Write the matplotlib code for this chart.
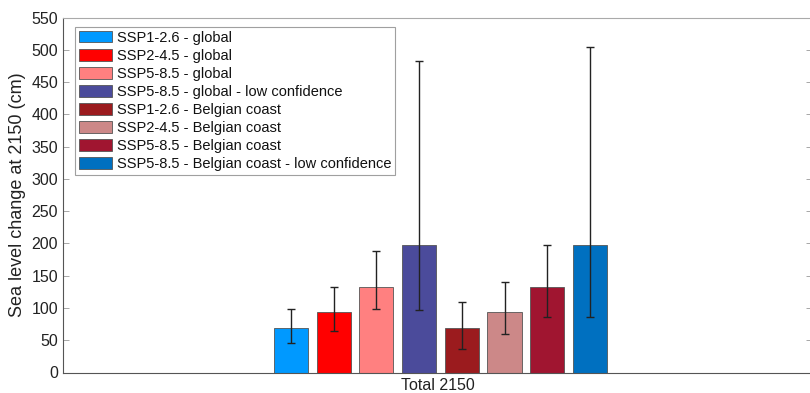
import matplotlib
matplotlib.use("Agg")
import matplotlib.pyplot as plt
import numpy as np

plt.rcParams['font.family'] = ['Liberation Sans', 'DejaVu Sans']

series = ["SSP1-2.6 - global", "SSP2-4.5 - global", "SSP5-8.5 - global",
          "SSP5-8.5 - global - low confidence", "SSP1-2.6 - Belgian coast",
          "SSP2-4.5 - Belgian coast", "SSP5-8.5 - Belgian coast",
          "SSP5-8.5 - Belgian coast - low confidence"]
values = [69, 93, 132, 198, 69, 94, 133, 198]
err_low = [46, 65, 98, 97, 37, 59, 86, 86]
err_high = [99, 133, 188, 482, 109, 140, 197, 504]
colors = ["#0099FF", "#FF0000", "#FF8080", "#4B4B9B", "#9B1B1E", "#CC8888",
          "#A01530", "#0070C0"]
category = "Total 2150"

fig = plt.figure(figsize=(8.1, 3.93), dpi=100)
ax = fig.add_axes([63/810, (393-372.5)/393, (812-63)/810, 355/393])

n = len(values)
spacing = 0.057
width = 0.0455
xs = 1.004 + (np.arange(n) - (n-1)/2) * spacing
v = np.array(values)
yerr = [v - np.array(err_low), np.array(err_high) - v]
for i in range(n):
    ax.bar(xs[i], values[i], width=width, color=colors[i], edgecolor="#555555",
           linewidth=0.6, label=series[i], zorder=2)
ax.errorbar(xs, v, yerr=yerr, fmt='none', ecolor='#222222', elinewidth=1.0,
            capsize=3, capthick=1.0, zorder=3)

ax.set_xlim(0.5, 1.5)
ax.set_ylim(0, 550)
ax.set_yticks(np.arange(0, 551, 50))
ax.set_xticks([1])
ax.set_xticklabels([category])
ax.set_ylabel("Sea level change at 2150 (cm)", fontsize=13, color="#222222",
              labelpad=4)
ax.tick_params(axis='both', direction='in', labelsize=11.5, colors='#222222',
               length=4, width=0.6)
ax.tick_params(axis='y', right=True, colors='#999999', labelcolor='#222222')
ax.tick_params(axis='x', pad=4, length=0)
for s in ['top', 'right']:
    ax.spines[s].set_color('#aaaaaa')
for s in ['left', 'bottom']:
    ax.spines[s].set_color('#555555')
for s in ax.spines.values():
    s.set_linewidth(0.8)

leg = ax.legend(loc='upper left', bbox_to_anchor=(0.016, 0.973), fontsize=10.5,
                frameon=True, fancybox=False, edgecolor='#888888',
                handlelength=2.3, handleheight=0.85, labelspacing=0.28,
                handletextpad=0.3, borderpad=0.25, borderaxespad=0)
leg.get_frame().set_linewidth(0.8)
for t in leg.get_texts():
    t.set_color('#111111')

fig.savefig("out.png", dpi=100)
